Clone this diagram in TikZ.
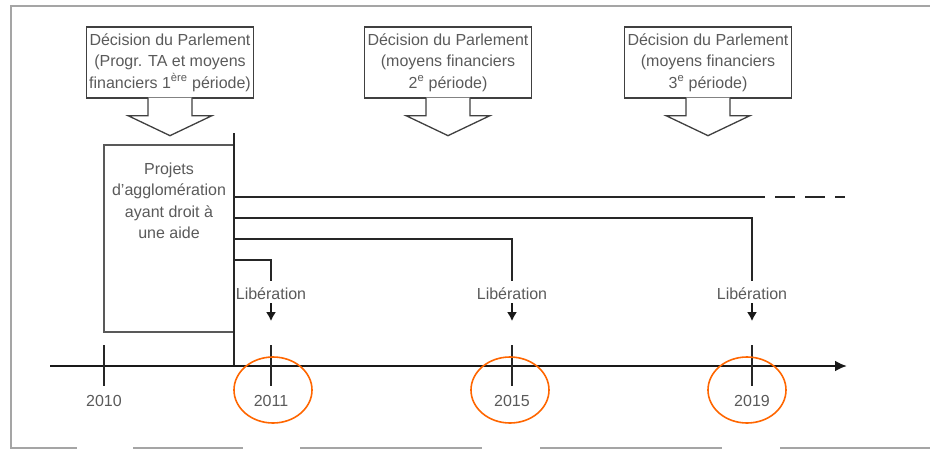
\documentclass[tikz,border=0pt]{standalone}
\usepackage{fontspec}
\setmainfont{Liberation Sans}
\usetikzlibrary{arrows,arrows.meta,calc,positioning,shapes}
\definecolor{txtgray}{RGB}{90,90,90}
\definecolor{hlorange}{RGB}{255,102,0}
\definecolor{framegray}{RGB}{165,165,165}
\tikzset{
    decision/.style = {draw=black!75, rectangle, line width=1.3pt,
        minimum height=71pt, minimum width=167pt, inner sep=0pt,
        align=center, text=txtgray, font=\fontsize{16}{21.5}\selectfont},
    projbox/.style = {draw=black!65, rectangle, line width=1.3pt,
        minimum height=187pt, minimum width=130pt},
    year/.style = {text=txtgray, font=\fontsize{16}{19}\selectfont, inner sep=1pt},
    lib/.style = {text=txtgray, font=\fontsize{16}{19}\selectfont, inner sep=3pt},
    bar/.style = {draw=black!85, line width=2.8pt},
    tick/.style = {draw=black!85, line width=2.8pt},
    axis/.style = {draw=black!90, line width=2.4pt, -{Latex[length=12pt,width=11pt]}},
    libarrow/.style = {draw=black!90, line width=1.8pt, -{Latex[length=9pt,width=10pt]}},
    circled/.style = {draw=hlorange, ellipse, line width=1.6pt,
        minimum width=78pt, minimum height=66pt},
    framing/.style = {draw=framegray, line width=1.8pt}
}
\newcommand{\downcall}[1]{%
    \draw[draw=black!75, line width=1.3pt, fill=white]
        ($(#1.south)+(-22,-1)$) -- ++(0,18) -- ++(-20,0) -- ++(42,20)
        -- ++(42,-20) -- ++(-20,0) -- ++(0,-18);}

\begin{document}
\begin{tikzpicture}[x=1pt, y=-1pt, auto, node distance=2cm, >=latex']
        \useasboundingbox (0,0) rectangle (930,450);
        \draw[framing] (930,6) -- (11,6) -- (11,449);
        \foreach \a/\b in {11/77,133/243,300/482,540/722,780/930}
            \draw[framing] (\a,448) -- (\b,448);
        \node [decision] (dec1) at (170,62.5) {Décision du Parlement\\(Progr. TA et moyens\\financiers 1\textsuperscript{ère} période)};
        \node [decision, right of=dec1, node distance=278pt] (dec2) {Décision du Parlement\\(moyens financiers\\2\textsuperscript{e} période)};
        \node [decision, right of=dec2, node distance=260pt] (dec3) {Décision du Parlement\\(moyens financiers\\3\textsuperscript{e} période)};
        \downcall{dec1} \downcall{dec2} \downcall{dec3}
        \node [projbox, label={[anchor=north, yshift=-15pt, align=center, text=txtgray, font=\fontsize{16}{21.3}\selectfont]north:Projets\\d'agglomération\\ayant droit à\\une aide}] (proj) at (169,238.5) {};
        \coordinate (vtop) at (234,133);
        \coordinate (vbot) at (234,366);
        \draw[bar] (vtop) -- (vbot);
        \coordinate (tstart) at (50,366);
        \coordinate (tend) at (847,366);
        \draw[axis] (tstart) -- (tend);
        \node [year] (y2010) at (104,401) {2010};
        \node [year, right of=y2010, node distance=167pt] (y2011) {2011};
        \node [year, right of=y2011, node distance=241pt] (y2015) {2015};
        \node [year, right of=y2015, node distance=240pt] (y2019) {2019};
        \foreach \yr in {2010,2011,2015,2019}
            \draw[tick] ($(y\yr)+(0,-56)$) -- ++(0,41);
        \foreach \yr/\dx in {2011/2,2015/-2,2019/-5}
            \node [circled] (c\yr) at ($(y\yr)+(\dx,-11)$) {};
        \node [lib, above of=y2011, node distance=107pt] (l2011) {Libération};
        \node [lib, above of=y2015, node distance=107pt] (l2015) {Libération};
        \node [lib, above of=y2019, node distance=107pt] (l2019) {Libération};
        \foreach \i/\y in {1/197,2/218,3/239,4/260}
            \coordinate (b\i) at (234,\y);
        \coordinate (open) at (765,197);
        \coordinate (cont) at (845,197);
        \draw[bar] (b1) -- (open);
        \draw[bar, dash pattern=on 20pt off 10pt, dash phase=20pt] (open) -- (cont);
        \draw[bar, shorten >=4pt] (b2) -| (l2019.north);
        \draw[bar, shorten >=4pt] (b3) -| (l2015.north);
        \draw[bar, shorten >=4pt] (b4) -| (l2011.north);
        \draw[libarrow] (l2011.south) -- ++(0,18);
        \draw[libarrow] (l2015.south) -- ++(0,18);
        \draw[libarrow] (l2019.south) -- ++(0,18);
    \end{tikzpicture}
\end{document}
